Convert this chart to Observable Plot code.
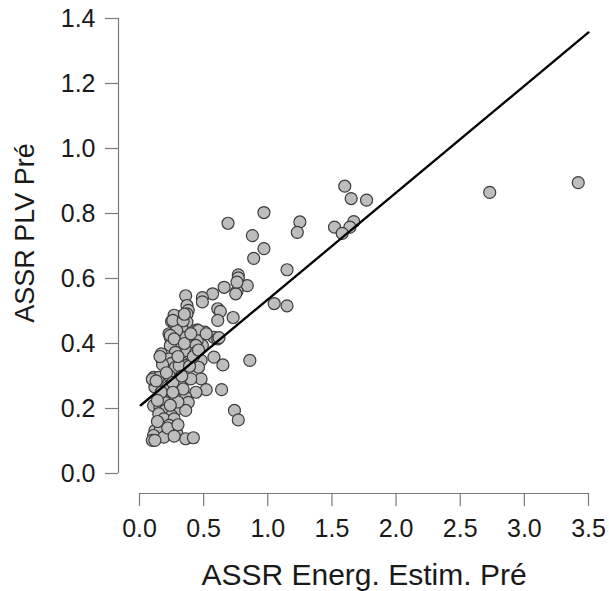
<!DOCTYPE html>
<html><head><meta charset="utf-8">
<script src="https://cdn.jsdelivr.net/npm/d3@7"></script>
<script src="https://cdn.jsdelivr.net/npm/@observablehq/plot@0.6"></script>
<style>body{margin:0;background:#fff} svg{display:block}</style>
</head><body><div id="chart"></div>
<script>
// ASSR Energ. Estim. Pré (x)
const energ = [
  2.73,3.42,1.60,1.65,1.77,0.97,0.69,1.25,1.23,1.52,1.67,1.64,1.58,0.88,0.97,0.89,1.15,0.77,0.77,0.84,
  0.66,0.76,0.75,0.57,0.36,0.49,0.49,0.37,0.38,0.37,0.61,0.63,1.05,1.15,0.73,0.61,0.37,0.45,0.51,0.58,
  0.61,0.49,0.86,0.58,0.65,0.48,0.48,0.52,0.64,0.74,0.77,
  0.27,0.25,0.27,0.33,0.46,0.23,0.29,0.24,0.36,0.41,0.45,0.28,0.31,0.24,0.44,0.36,0.44,0.28,0.17,0.18,
  0.23,0.25,0.33,0.46,0.36,0.28,0.18,0.31,0.11,0.15,0.23,0.31,0.40,0.12,0.22,0.32,0.44,0.20,0.28,0.36,
  0.38,0.11,0.16,0.20,0.28,0.36,0.20,0.15,0.25,0.19,0.27,0.23,0.12,0.16,0.11,0.19,0.10,0.12,0.29,0.36,
  0.42,0.29,0.24,0.27,0.62,0.16,0.10,0.13,0.26,0.76,
  0.21,0.26,0.34,0.30,0.24,0.17,0.14,0.33,0.39,0.42,0.35,0.30,0.26,0.22,0.30,0.14,0.40,0.34,0.35,0.52,0.46,0.27
];
// ASSR PLV Pré (y)
const plv = [
  0.865,0.895,0.884,0.846,0.841,0.803,0.770,0.774,0.742,0.758,0.775,0.758,0.739,0.732,0.692,0.662,0.627,0.611,0.602,0.578,
  0.573,0.561,0.553,0.553,0.547,0.541,0.528,0.517,0.502,0.491,0.507,0.499,0.523,0.516,0.480,0.471,0.466,0.442,0.435,0.419,
  0.414,0.394,0.348,0.358,0.334,0.348,0.291,0.258,0.258,0.194,0.165,
  0.487,0.468,0.462,0.450,0.440,0.430,0.419,0.419,0.419,0.414,0.409,0.404,0.394,0.394,0.394,0.378,0.373,0.373,0.368,0.342,
  0.353,0.339,0.342,0.327,0.332,0.327,0.335,0.332,0.296,0.296,0.302,0.291,0.291,0.266,0.266,0.271,0.250,0.240,0.235,0.235,
  0.219,0.209,0.204,0.219,0.194,0.194,0.194,0.184,0.178,0.168,0.168,0.148,0.132,0.132,0.117,0.112,0.102,0.102,0.124,0.107,
  0.110,0.440,0.425,0.414,0.418,0.360,0.290,0.285,0.471,0.589,
  0.310,0.280,0.260,0.220,0.210,0.250,0.160,0.300,0.330,0.360,0.400,0.360,0.250,0.140,0.150,0.225,0.430,0.470,0.490,0.430,0.380,0.115
];
const xTicks = [0, 0.5, 1, 1.5, 2, 2.5, 3, 3.5];
const yTicks = [0, 0.2, 0.4, 0.6, 0.8, 1.0, 1.2, 1.4];
// fitted line
const fitX = [0.01, 3.5];
const fitY = [0.21, 1.357];
const xLabel = "ASSR Energ. Estim. Pré";
const yLabel = "ASSR PLV Pré";

const points = energ.map((x, i) => ({x, y: plv[i]}));
const fit = fitX.map((x, i) => ({x, y: fitY[i]}));
const fmt = d => d.toFixed(1);
const axisColor = "#7a7a7a";
const textColor = "#1a1a1a";

const chart = Plot.plot({
  width: 609, height: 591,
  marginLeft: 139, marginRight: 21, marginTop: 18, marginBottom: 118,
  style: {fontFamily: "'Liberation Sans', Arial, Helvetica, sans-serif", background: "#fff", color: textColor},
  x: {domain: [0, 3.5]},
  y: {domain: [0, 1.4]},
  marks: [
    Plot.ruleX([0], {y1: 0, y2: 1.4, dx: -21, stroke: axisColor, strokeWidth: 1.2}),
    Plot.axisY({ticks: yTicks, anchor: "left", dx: -21, tickSize: 13, tickPadding: 10, tickFormat: fmt,
      fontSize: 25, stroke: axisColor, fill: textColor, label: null, strokeWidth: 1.2}),
    Plot.ruleY([0], {x1: 0, x2: 3.5, dy: 20, stroke: axisColor, strokeWidth: 1.2}),
    Plot.axisX({ticks: xTicks, anchor: "bottom", dy: 20, tickSize: 13, tickPadding: 13, tickFormat: fmt,
      fontSize: 25, stroke: axisColor, fill: textColor, label: null, strokeWidth: 1.2}),
    Plot.dot(points, {x: "x", y: "y", r: 6, fill: "#bdbdbd", stroke: "#3c3c3c", strokeWidth: 1.2}),
    Plot.line(fit, {x: "x", y: "y", stroke: "#000", strokeWidth: 2.3}),
    Plot.text([xLabel], {text: d => d, frameAnchor: "bottom", dy: 111, lineAnchor: "bottom", fontSize: 30, fill: textColor}),
    Plot.text([yLabel], {text: d => d, frameAnchor: "left", textAnchor: "middle", dx: -106, dy: -13, rotate: -90, lineAnchor: "bottom", fontSize: 27, fill: textColor})
  ]
});
document.getElementById("chart").appendChild(chart);
</script>
</body></html>
